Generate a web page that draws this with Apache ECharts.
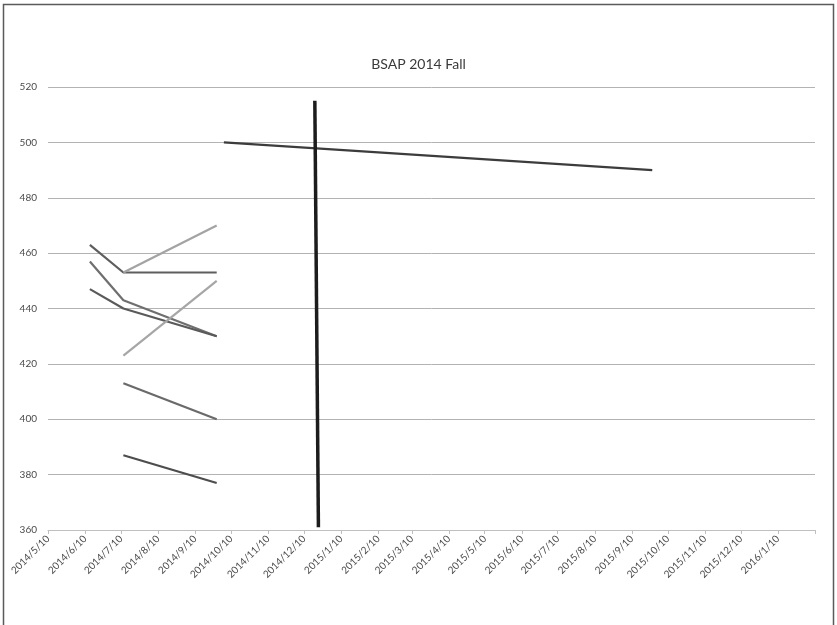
<!DOCTYPE html>
<html>
<head>
<meta charset="utf-8">
<script src="https://cdn.jsdelivr.net/npm/echarts@6/dist/echarts.min.js"></script>
<style>
  html, body { margin: 0; padding: 0; background: #fff; }
  #chart { width: 837px; height: 625px; }
</style>
</head>
<body>
<div id="chart"></div>
<script>
// Axis range and monthly tick dates
const axisStart = '2014/05/10';
const axisEnd = '2016/02/10';
const tickDates = [
  '2014/05/10', '2014/06/10', '2014/07/10', '2014/08/10', '2014/09/10', '2014/10/10',
  '2014/11/10', '2014/12/10', '2015/01/10', '2015/02/10', '2015/03/10', '2015/04/10',
  '2015/05/10', '2015/06/10', '2015/07/10', '2015/08/10', '2015/09/10', '2015/10/10',
  '2015/11/10', '2015/12/10', '2016/01/10', '2016/02/10'
];
const labelDates = tickDates.slice(0, tickDates.length - 1);
const yTicks = [360, 380, 400, 420, 440, 460, 480, 500, 520];

// Score series: test dates and scores
const datesA = ['2014/06/14', '2014/07/12', '2014/09/28'];
const scoresA = [463, 453, 453];
const datesB = ['2014/07/12', '2014/09/28'];
const scoresB = [453, 470];
const datesC = ['2014/06/14', '2014/07/12', '2014/09/28'];
const scoresC = [457, 443, 430];
const datesD = ['2014/06/14', '2014/07/12', '2014/09/28'];
const scoresD = [447, 440, 430];
const datesE = ['2014/07/12', '2014/09/28'];
const scoresE = [423, 450];
const datesF = ['2014/07/12', '2014/09/28'];
const scoresF = [413, 400];
const datesG = ['2014/07/12', '2014/09/28'];
const scoresG = [387, 377];
const datesH = ['2014/10/04', '2015/09/27'];
const scoresH = [500, 490];
// Marker line
const datesMark = ['2014/12/19', '2014/12/22'];
const scoresMark = [515, 361];

// Dates are placed on a linear axis as whole days since the epoch
const DAY = 86400000;
const t = s => Math.round(new Date(s + ' 00:00:00 UTC').getTime() / DAY);
const pairs = (d, v) => d.map((x, i) => [t(x), v[i]]);

function fmtDate(v) {
  const d = new Date(v * DAY);
  return d.getUTCFullYear() + '/' + (d.getUTCMonth() + 1) + '/' + d.getUTCDate();
}

function line(name, d, v, color, width) {
  return {
    name: name, type: 'line', data: pairs(d, v), symbol: 'none',
    lineStyle: { color: color, width: width }, itemStyle: { color: color },
    silent: true, animation: false
  };
}

const chart = echarts.init(document.getElementById('chart'), null, { renderer: 'canvas' });
chart.setOption({
  animation: false,
  backgroundColor: '#ffffff',
  title: {
    text: 'BSAP 2014 Fall',
    left: 'center', top: 52,
    textStyle: { fontFamily: 'Lato', fontSize: 14, fontWeight: 'normal', color: '#3a3a3a' }
  },
  graphic: [{
    type: 'rect', silent: true,
    shape: { x: 3.5, y: 4.5, width: 830, height: 640 },
    style: { fill: 'none', stroke: '#5a5a5a', lineWidth: 1.5 }
  }],
  grid: { left: 48, right: 22, top: 87, bottom: 95, containLabel: false },
  xAxis: {
    type: 'value',
    min: t(axisStart), max: t(axisEnd),
    axisLine: { show: true, onZero: false, lineStyle: { color: '#bfbfbf', width: 1 } },
    axisTick: { show: true, length: 4, lineStyle: { color: '#bfbfbf' },
      customValues: tickDates.map(t) },
    axisLabel: {
      customValues: labelDates.map(t),
      rotate: 45, margin: 7,
      fontFamily: 'Lato', fontSize: 10, color: '#4a4a4a',
      formatter: v => fmtDate(v),
      hideOverlap: false
    },
    splitLine: { show: false }
  },
  yAxis: {
    type: 'value', min: yTicks[0], max: yTicks[yTicks.length - 1], interval: 20,
    axisLine: { show: false }, axisTick: { show: false },
    axisLabel: { fontFamily: 'Lato', fontSize: 10, color: '#4a4a4a', margin: 11 },
    splitLine: { show: true, lineStyle: { color: '#b3b3b3', width: 1 } }
  },
  series: [
    line('A', datesA, scoresA, '#5e5e5e', 2.2),
    line('B', datesB, scoresB, '#a3a3a3', 2.2),
    line('C', datesC, scoresC, '#6f6f6f', 2.2),
    line('D', datesD, scoresD, '#5a5a5a', 2.2),
    line('E', datesE, scoresE, '#a6a6a6', 2.2),
    line('F', datesF, scoresF, '#6a6a6a', 2.2),
    line('G', datesG, scoresG, '#4d4d4d', 2.2),
    line('H', datesH, scoresH, '#3c3c3c', 2.2),
    line('Mark', datesMark, scoresMark, '#1c1c1c', 3.5)
  ]
});
</script>
</body>
</html>
